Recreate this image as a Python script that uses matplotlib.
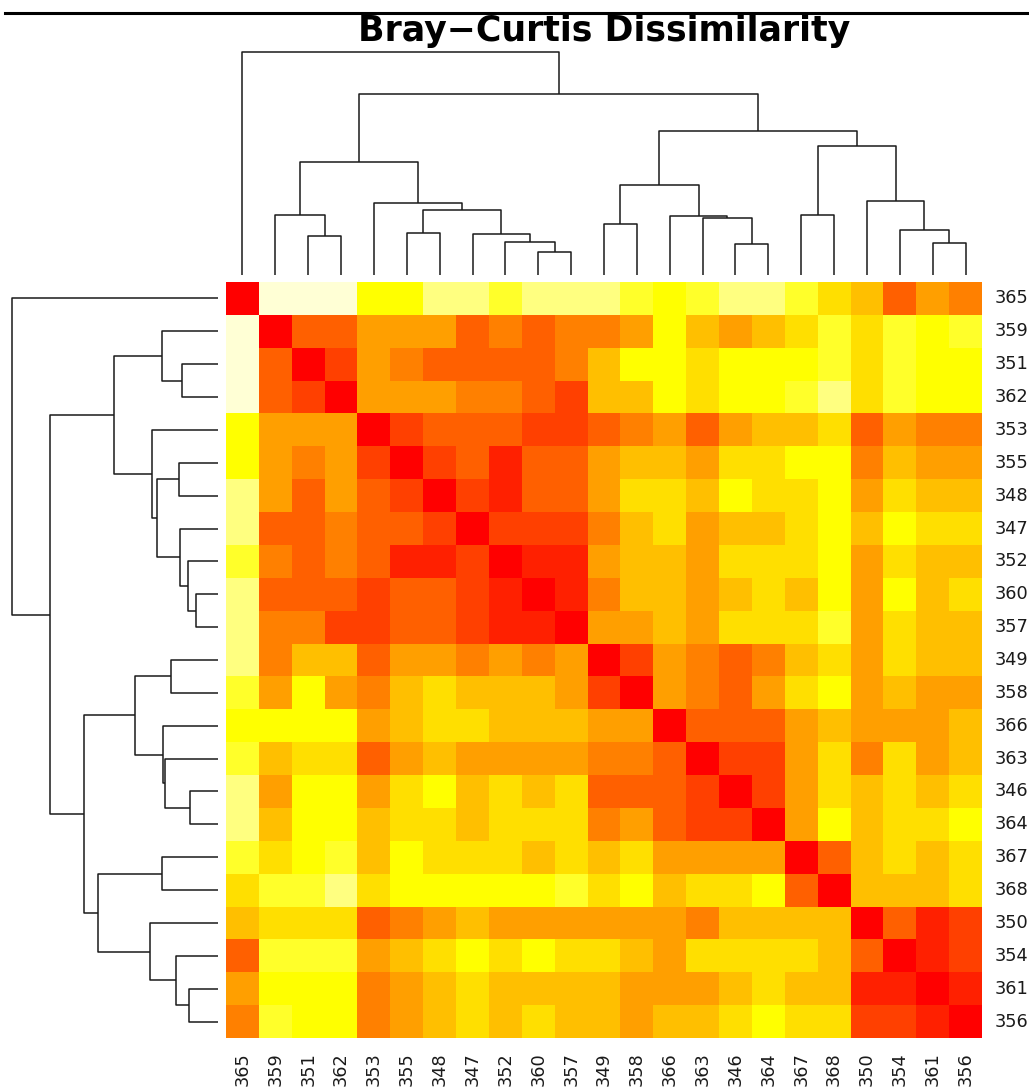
import matplotlib
matplotlib.use("Agg")
import matplotlib.pyplot as plt
import numpy as np
from matplotlib.colors import ListedColormap
from matplotlib.lines import Line2D
from matplotlib.transforms import offset_copy

# Samples in dendrogram (display) order, shared by rows and columns
samples = ["365", "359", "351", "362", "353", "355", "348", "347", "352", "360", "357",
           "349", "358", "366", "363", "346", "364", "367", "368", "350", "354", "361", "356"]

# heat.colors(12): red = most similar, pale yellow = most dissimilar
heat_colors = ["#FF0000", "#FF2000", "#FF4000", "#FF6000", "#FF8000", "#FF9F00",
               "#FFBF00", "#FFDF00", "#FFFF00", "#FFFF2A", "#FFFF80", "#FFFFD5"]

# Bray-Curtis dissimilarity, binned into the 12 colour bands (0 = lowest)
dissim_band = [
    [0, 11, 11, 11, 8, 8, 10, 10, 9, 10, 10, 10, 9, 8, 9, 10, 10, 9, 7, 6, 3, 5, 4],
    [11, 0, 3, 3, 5, 5, 5, 3, 4, 3, 4, 4, 5, 8, 6, 5, 6, 7, 9, 7, 9, 8, 9],
    [11, 3, 0, 2, 5, 4, 3, 3, 3, 3, 4, 6, 8, 8, 7, 8, 8, 8, 9, 7, 9, 8, 8],
    [11, 3, 2, 0, 5, 5, 5, 4, 4, 3, 2, 6, 6, 8, 7, 8, 8, 9, 10, 7, 9, 8, 8],
    [8, 5, 5, 5, 0, 2, 3, 3, 3, 2, 2, 3, 4, 5, 3, 5, 6, 6, 7, 3, 5, 4, 4],
    [8, 5, 4, 5, 2, 0, 2, 3, 1, 3, 3, 5, 6, 6, 5, 7, 7, 8, 8, 4, 6, 5, 5],
    [10, 5, 3, 5, 3, 2, 0, 2, 1, 3, 3, 5, 7, 7, 6, 8, 7, 7, 8, 5, 7, 6, 6],
    [10, 3, 3, 4, 3, 3, 2, 0, 2, 2, 2, 4, 6, 7, 5, 6, 6, 7, 8, 6, 8, 7, 7],
    [9, 4, 3, 4, 3, 1, 1, 2, 0, 1, 1, 5, 6, 6, 5, 7, 7, 7, 8, 5, 7, 6, 6],
    [10, 3, 3, 3, 2, 3, 3, 2, 1, 0, 1, 4, 6, 6, 5, 6, 7, 6, 8, 5, 8, 6, 7],
    [10, 4, 4, 2, 2, 3, 3, 2, 1, 1, 0, 5, 5, 6, 5, 7, 7, 7, 9, 5, 7, 6, 6],
    [10, 4, 6, 6, 3, 5, 5, 4, 5, 4, 5, 0, 2, 5, 4, 3, 4, 6, 7, 5, 7, 6, 6],
    [9, 5, 8, 5, 4, 6, 7, 6, 6, 6, 5, 2, 0, 5, 4, 3, 5, 7, 8, 5, 6, 5, 5],
    [8, 8, 8, 8, 5, 6, 7, 7, 6, 6, 6, 5, 5, 0, 3, 3, 3, 5, 6, 5, 5, 5, 6],
    [9, 6, 7, 7, 3, 5, 6, 5, 5, 5, 5, 4, 4, 3, 0, 2, 2, 5, 7, 4, 7, 5, 6],
    [10, 5, 8, 8, 5, 7, 8, 6, 7, 6, 7, 3, 3, 3, 2, 0, 2, 5, 7, 6, 7, 6, 7],
    [10, 6, 8, 8, 6, 7, 7, 6, 7, 7, 7, 4, 5, 3, 2, 2, 0, 5, 8, 6, 7, 7, 8],
    [9, 7, 8, 9, 6, 8, 7, 7, 7, 6, 7, 6, 7, 5, 5, 5, 5, 0, 3, 6, 7, 6, 7],
    [7, 9, 9, 10, 7, 8, 8, 8, 8, 8, 9, 7, 8, 6, 7, 7, 8, 3, 0, 6, 6, 6, 7],
    [6, 7, 7, 7, 3, 4, 5, 6, 5, 5, 5, 5, 5, 5, 4, 6, 6, 6, 6, 0, 3, 1, 2],
    [3, 9, 9, 9, 5, 6, 7, 8, 7, 8, 7, 7, 6, 5, 7, 7, 7, 7, 6, 3, 0, 1, 2],
    [5, 8, 8, 8, 4, 5, 6, 7, 6, 6, 6, 6, 5, 5, 5, 6, 7, 6, 6, 1, 1, 0, 1],
    [4, 9, 8, 8, 4, 5, 6, 7, 6, 7, 6, 6, 5, 6, 6, 7, 8, 7, 7, 2, 2, 1, 0],
]

# Hierarchical clustering merges: (left, right, height); str = sample, int = earlier merge
merges = [
    ("360", "357", 0.105),   # 0
    ("346", "364", 0.138),   # 1
    ("361", "356", 0.142),   # 2
    ("352", 0, 0.147),       # 3
    ("351", "362", 0.175),   # 4
    ("347", 3, 0.182),       # 5
    ("355", "348", 0.189),   # 6
    ("354", 2, 0.204),       # 7
    ("349", "358", 0.227),   # 8
    ("363", 1, 0.256),       # 9
    ("366", 9, 0.265),       # 10
    ("359", 4, 0.271),       # 11
    ("367", "368", 0.271),   # 12
    (6, 5, 0.294),           # 13
    ("353", 13, 0.322),      # 14
    ("350", 7, 0.331),       # 15
    (8, 10, 0.404),          # 16
    (11, 14, 0.506),         # 17
    (12, 15, 0.581),         # 18
    (16, 18, 0.648),         # 19
    (17, 19, 0.812),         # 20
    ("365", 20, 1.000),      # 21
]

title = "Bray\u2212Curtis Dissimilarity"

W, H = 1029, 1091
fig = plt.figure(figsize=(W / 100, H / 100), dpi=100)
fig.patch.set_facecolor("white")


def px_axes(x0, y0, x1, y1):
    """Axes placed by pixel box (origin top-left)."""
    ax = fig.add_axes([x0 / W, 1 - y1 / H, (x1 - x0) / W, (y1 - y0) / H])
    ax.set_axis_off()
    return ax


n = len(samples)
HM = (226, 282, 982, 1038)

# ---- heatmap ----
hm = px_axes(*HM)
cmap = ListedColormap(heat_colors)
hm.pcolormesh(np.arange(n + 1), np.arange(n + 1), np.array(dissim_band),
              cmap=cmap, vmin=-0.5, vmax=len(heat_colors) - 0.5,
              edgecolors="none", antialiased=False)
hm.set_xlim(0, n)
hm.set_ylim(n, 0)

label_font = dict(family="DejaVu Sans", fontsize=12.8, color="#1a1a1a")
row_tr = offset_copy(hm.transData, fig=fig, x=13, y=0, units="dots")
col_tr = offset_copy(hm.transData, fig=fig, x=0, y=-14, units="dots")
for i, s in enumerate(samples):
    hm.text(n, i + 0.5, s, ha="left", va="center", transform=row_tr,
            clip_on=False, **label_font)
    hm.text(i + 0.5, n, s, ha="center", va="top", rotation=90,
            transform=col_tr, clip_on=False, **label_font)


# ---- dendrograms ----
def layout():
    """Return segments [(pos_a, h_a, pos_b, h_b, h)] for every merge."""
    pos = {}
    segs = []

    def get(node):
        if isinstance(node, str):
            return samples.index(node) + 0.5, 0.0
        return pos[node]

    for k, (a, b, h) in enumerate(merges):
        xa, ha = get(a)
        xb, hb = get(b)
        segs.append((xa, ha, xb, hb, h))
        pos[k] = ((xa + xb) / 2, h)
    return segs


segs = layout()
top_h = merges[-1][2]
line_kw = dict(color="#1a1a1a", lw=1.1, clip_on=False, solid_capstyle="butt")

# column dendrogram (above the heatmap)
top = px_axes(226, 52.3, 982, 275)
top.set_xlim(0, n)
top.set_ylim(0, top_h)
for xa, ha, xb, hb, h in segs:
    top.plot([xa, xa, xb, xb], [ha, h, h, hb], **line_kw)

# row dendrogram (left of the heatmap)
left = px_axes(11.7, 282, 218, 1038)
left.set_xlim(top_h, 0)
left.set_ylim(n, 0)
for ya, ha, yb, hb, h in segs:
    left.plot([ha, h, h, hb], [ya, ya, yb, yb], **line_kw)

# ---- title and top rule ----
fig.text(604 / W, 1 - 41 / H, title, ha="center", va="baseline",
         family="DejaVu Sans", fontsize=25, fontweight="bold", color="black")
fig.add_artist(Line2D([5 / W, 1.0], [1 - 13 / H, 1 - 13 / H],
                      color="black", lw=2.2, transform=fig.transFigure))

fig.savefig("out.png", dpi=100, facecolor="white")
